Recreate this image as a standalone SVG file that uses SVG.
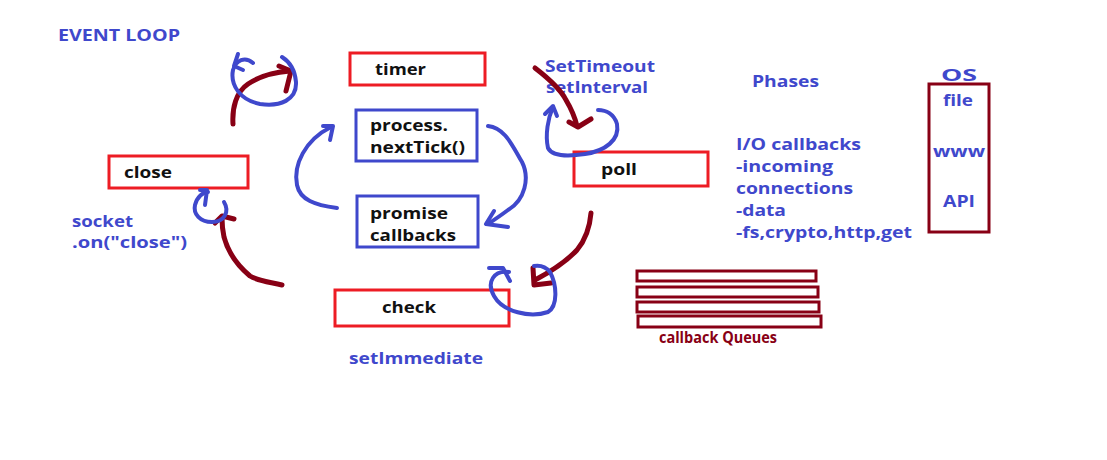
<svg xmlns="http://www.w3.org/2000/svg" width="1107" height="460" viewBox="0 0 1107 460">
<style>
.t{font-family:"Open Sans","Liberation Sans",sans-serif;font-weight:700;font-size:16px}
.k{fill:#111}
.b{fill:#3f48cc}
.d{fill:#880015}
.rb{fill:#fff;stroke:#ed1c24;stroke-width:3}
.bb{fill:#fff;stroke:#3f48cc;stroke-width:3}
.q{fill:#fff;stroke:#880015;stroke-width:3}
.cb{fill:none;stroke:#3f48cc;stroke-width:4;stroke-linecap:round;stroke-linejoin:round}
.cr{fill:none;stroke:#880015;stroke-width:5;stroke-linecap:round;stroke-linejoin:round}
</style>
<rect width="1107" height="460" fill="#fff"/>
<text class="t b" x="58" y="41" font-size="15" textLength="122" lengthAdjust="spacingAndGlyphs">EVENT LOOP</text>

<g id="timer"><rect class="rb" x="350" y="53" width="135" height="32"/><text class="t k" x="375" y="75" textLength="51" lengthAdjust="spacingAndGlyphs">timer</text></g>
<g id="nextTick"><rect class="bb" x="356" y="110" width="121" height="51"/><text class="t k" x="370" y="131" textLength="78" lengthAdjust="spacingAndGlyphs">process.</text><text class="t k" x="370" y="153" textLength="95" lengthAdjust="spacingAndGlyphs">nextTick()</text></g>
<g id="promise"><rect class="bb" x="357" y="196" width="121" height="51"/><text class="t k" x="370" y="219" textLength="78" lengthAdjust="spacingAndGlyphs">promise</text><text class="t k" x="370" y="241" textLength="86" lengthAdjust="spacingAndGlyphs">callbacks</text></g>
<g id="close"><rect class="rb" x="109" y="156" width="139" height="32"/><text class="t k" x="124" y="178" textLength="48" lengthAdjust="spacingAndGlyphs">close</text></g>
<g id="check"><rect class="rb" x="335" y="290" width="174" height="36"/><text class="t k" x="382" y="313" textLength="54" lengthAdjust="spacingAndGlyphs">check</text></g>
<g id="poll"><rect class="rb" x="574" y="152" width="134" height="34"/><text class="t k" x="601" y="175" textLength="36" lengthAdjust="spacingAndGlyphs">poll</text></g>

<g id="labels">
<text class="t b" x="72" y="227" textLength="61" lengthAdjust="spacingAndGlyphs">socket</text>
<text class="t b" x="72" y="248" textLength="115" lengthAdjust="spacingAndGlyphs">.on("close")</text>
<text class="t b" x="349" y="364" textLength="134" lengthAdjust="spacingAndGlyphs">setImmediate</text>
<text class="t b" x="545" y="72" textLength="110" lengthAdjust="spacingAndGlyphs">SetTimeout</text>
<text class="t b" x="546" y="93" textLength="102" lengthAdjust="spacingAndGlyphs">setInterval</text>
<text class="t b" x="752" y="87" textLength="67" lengthAdjust="spacingAndGlyphs">Phases</text>
<text class="t b" x="736" y="150" textLength="125" lengthAdjust="spacingAndGlyphs">I/O callbacks</text>
<text class="t b" x="736" y="172" textLength="97" lengthAdjust="spacingAndGlyphs">-incoming</text>
<text class="t b" x="736" y="194" textLength="117" lengthAdjust="spacingAndGlyphs">connections</text>
<text class="t b" x="736" y="216" textLength="50" lengthAdjust="spacingAndGlyphs">-data</text>
<text class="t b" x="736" y="238" textLength="176" lengthAdjust="spacingAndGlyphs">-fs,crypto,http,get</text>
</g>

<g id="os">
<text class="t b" x="941" y="81" textLength="36" lengthAdjust="spacingAndGlyphs">OS</text>
<rect x="929" y="84" width="60" height="148" fill="#fff" stroke="#880015" stroke-width="3"/>
<text class="t b" x="943" y="106" textLength="30" lengthAdjust="spacingAndGlyphs">file</text>
<text class="t b" x="933" y="157" textLength="52" lengthAdjust="spacingAndGlyphs">www</text>
<text class="t b" x="943" y="207" textLength="32" lengthAdjust="spacingAndGlyphs">API</text>
</g>

<g id="queues">
<rect class="q" x="637" y="271" width="179" height="10"/>
<rect class="q" x="637" y="287" width="181" height="10"/>
<rect class="q" x="637" y="302" width="182" height="10"/>
<rect class="q" x="638" y="316" width="183" height="11"/>
<text class="t d" x="659" y="343" font-size="14" textLength="118" lengthAdjust="spacingAndGlyphs">callback Queues</text>
</g>

<g id="connectors">
<!-- timer -->
<path class="cr" d="M233 124 C232 108 236 92 248 84 C260 76 275 72 290 71"/>
<path class="cr" d="M279 66 L291 71 L286 91"/>
<path class="cb" d="M253 63 C245 56 236 60 233 70 C230 85 240 100 260 104 C280 107 297 100 296 82 C295 70 290 62 282 57"/>
<path class="cb" d="M238 54 L234 66 L243 70"/>
<!-- nextTick/promise loop -->
<path class="cb" d="M337 208 C315 205 300 200 297 185 C293 165 305 140 331 127"/>
<path class="cb" d="M323 126 L333 126 L330 140"/>
<path class="cb" d="M488 126 C505 128 512 145 522 162 C530 178 525 200 508 210 C500 216 494 220 488 224"/>
<path class="cb" d="M494 211 L486 224 L508 227"/>
<!-- poll -->
<path class="cr" d="M535 68 C548 78 560 88 566 100 C572 110 575 118 577 126"/>
<path class="cr" d="M569 122 L578 127 L591 119"/>
<path class="cb" d="M553 107 C548 118 545 135 548 148 C552 156 565 157 585 154 C605 151 620 140 617 124 C614 114 606 110 598 110"/>
<path class="cb" d="M545 114 L553 106 L557 116"/>
<!-- check -->
<path class="cr" d="M591 213 C590 225 587 238 577 250 C565 263 550 272 535 280"/>
<path class="cr" d="M533 268 L534 285 L551 283"/>
<path class="cb" d="M509 272 C494 270 486 282 494 296 C503 312 530 318 548 312 C558 306 557 285 550 272 C546 267 540 265 534 266"/>
<path class="cb" d="M489 268 L503 268 L510 281"/>
<!-- close -->
<path class="cr" d="M282 285 C270 282 258 281 250 276 C238 266 228 252 224 237 C222 228 222 222 222 218"/>
<path class="cr" d="M215 223 L222 216 L234 219"/>
<path class="cb" d="M224 202 C230 212 224 222 212 222 C200 222 193 214 195 205 C197 197 203 192 208 192"/>
<path class="cb" d="M200 190 L207 190 L205 205"/>
</g>
</svg>
